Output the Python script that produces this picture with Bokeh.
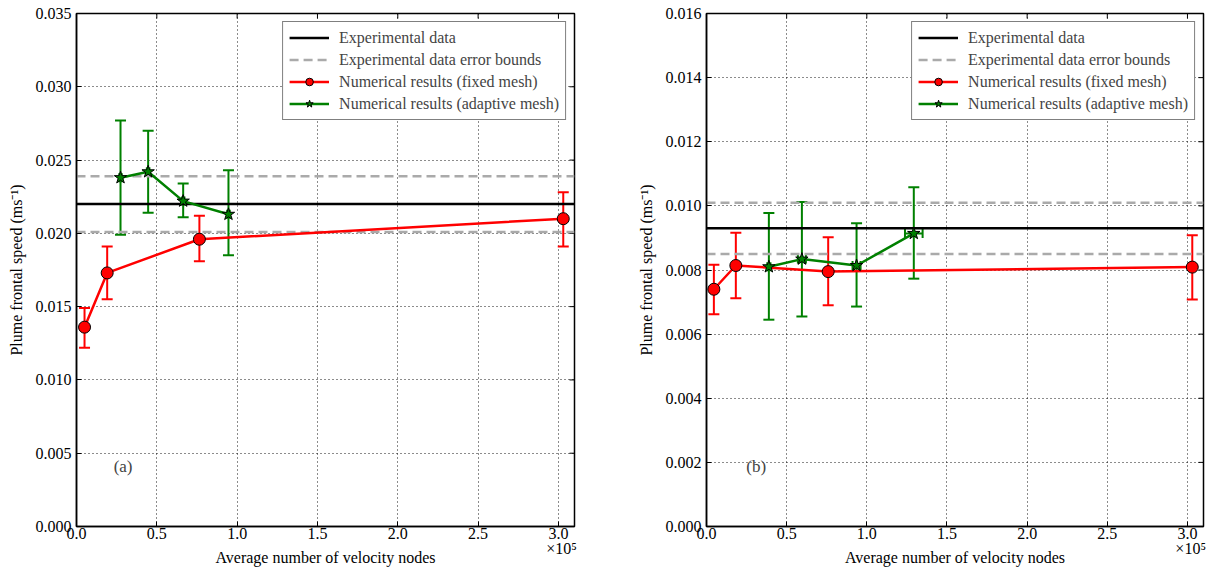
import math
from bokeh.plotting import figure
from bokeh.layouts import row
from bokeh.models import (ColumnDataSource, Whisker, TeeHead, Legend, LegendItem,
                          FixedTicker, Label, Range1d, LinearAxis)
from bokeh.embed import file_html
from bokeh.resources import INLINE

# ---- data -------------------------------------------------------------
# panel (a)
fixed_x_a = [5000, 19100, 76500, 303000]
fixed_y_a = [0.0136, 0.0173, 0.0196, 0.0210]
fixed_lo_a = [0.0122, 0.0155, 0.0181, 0.0191]
fixed_hi_a = [0.0149, 0.0191, 0.0212, 0.0228]

adapt_x_a = [27400, 44600, 66400, 94600]
adapt_y_a = [0.0238, 0.0242, 0.0222, 0.0213]
adapt_lo_a = [0.0199, 0.0214, 0.0211, 0.0185]
adapt_hi_a = [0.0277, 0.0270, 0.0234, 0.0243]
adapt_xerr_a = [800, 800, 800, 800]

exp_a = 0.0220
exp_bounds_a = [0.0201, 0.0239]

# panel (b)
fixed_x_b = [4600, 18300, 75900, 303000]
fixed_y_b = [0.00740, 0.00814, 0.00795, 0.00809]
fixed_lo_b = [0.00662, 0.00712, 0.00690, 0.00708]
fixed_hi_b = [0.00816, 0.00916, 0.00902, 0.00908]

adapt_x_b = [38900, 59500, 93600, 129300]
adapt_y_b = [0.00810, 0.00834, 0.00814, 0.00914]
adapt_lo_b = [0.00645, 0.00655, 0.00686, 0.00773]
adapt_hi_b = [0.00978, 0.01012, 0.00946, 0.01058]
adapt_xerr_b = [1000, 2500, 2500, 5500]

exp_b = 0.0093
exp_bounds_b = [0.0085, 0.0101]

x_ticks = [0, 50000, 100000, 150000, 200000, 250000, 300000]
x_tick_labels = ["0.0", "0.5", "1.0", "1.5", "2.0", "2.5", "3.0"]
y_ticks_a = [0.000, 0.005, 0.010, 0.015, 0.020, 0.025, 0.030, 0.035]
y_ticks_b = [0.000, 0.002, 0.004, 0.006, 0.008, 0.010, 0.012, 0.014, 0.016]

X_MAX = 310000
SCALE_POS = 302000          # where the x multiplier text sits
FONT = "Liberation Serif"
FS = "16px"
RED = "#ff0000"
GREEN = "#008000"


def style_text(axis):
    axis.major_label_text_font = FONT
    axis.major_label_text_font_size = FS
    axis.major_label_text_color = "black"
    axis.axis_label_text_font = FONT
    axis.axis_label_text_font_size = FS
    axis.axis_label_text_font_style = "normal"
    axis.axis_label_text_color = "black"


def make_panel(tag, width, border_right, y_max, y_ticks,
               fx, fy, flo, fhi, ax, ay, alo, ahi, axerr, exp, bounds,
               tag_x, tag_y):
    p = figure(width=width, height=569, output_backend="svg", toolbar_location=None,
               x_range=Range1d(0, X_MAX), y_range=Range1d(0, y_max),
               min_border_left=76, min_border_right=border_right,
               min_border_top=13, min_border_bottom=43)
    p.outline_line_color = "black"
    p.outline_line_width = 1.5
    p.background_fill_color = "white"
    p.border_fill_color = "white"

    # axes
    xa, ya = p.xaxis[0], p.yaxis[0]
    for ax_ in (xa, ya):
        ax_.axis_line_color = "black"
        ax_.axis_line_width = 1.5
        ax_.major_tick_in = 5
        ax_.major_tick_out = 0
        ax_.major_tick_line_color = "black"
        ax_.minor_tick_line_color = None
        style_text(ax_)
    xa.ticker = FixedTicker(ticks=x_ticks)
    xa.major_label_overrides = dict(zip(x_ticks, x_tick_labels))
    xa.major_label_standoff = 1
    ya.ticker = FixedTicker(ticks=y_ticks)
    ya.major_label_overrides = {t: f"{t:.3f}" for t in y_ticks}
    ya.axis_label = "Plume frontal speed (ms\u207b\u00b9)"
    ya.major_label_standoff = 5
    ya.axis_label_standoff = 8

    # second bottom axis: multiplier text and the axis title
    xb = LinearAxis(ticker=FixedTicker(ticks=[SCALE_POS]),
                    major_label_overrides={SCALE_POS: "\u00d710\u2075"},
                    axis_line_color=None, major_tick_line_color=None,
                    minor_tick_line_color=None, major_tick_in=0, major_tick_out=0,
                    major_label_standoff=-2,
                    axis_label="Average number of velocity nodes",
                    axis_label_standoff=-11)
    style_text(xb)
    p.add_layout(xb, "below")

    # inward tick marks along the top and right edges
    p.ray(x=x_ticks, y=[y_max] * len(x_ticks), length=5, length_units="screen",
          angle=-math.pi / 2, line_color="black", line_width=1)
    p.ray(x=[X_MAX] * len(y_ticks), y=y_ticks, length=5, length_units="screen",
          angle=math.pi, line_color="black", line_width=1)

    # grid
    for g in (p.xgrid[0], p.ygrid[0]):
        g.grid_line_color = "black"
        g.grid_line_dash = "1 3"
        g.grid_line_width = 1
        g.grid_line_alpha = 0.9
    p.xgrid[0].ticker = FixedTicker(ticks=x_ticks)
    p.ygrid[0].ticker = FixedTicker(ticks=y_ticks)

    # experimental reference lines
    r_exp = p.line([0, X_MAX], [exp, exp], line_color="black", line_width=2.5)
    r_b = None
    for b in bounds:
        r_b = p.line([0, X_MAX], [b, b], line_color="#aaaaaa", line_width=2.5,
                     line_dash="9 5")

    # fixed mesh
    fsrc = ColumnDataSource(dict(x=fx, y=fy, lo=flo, hi=fhi))
    p.add_layout(Whisker(source=fsrc, base="x", lower="lo", upper="hi",
                         line_color=RED, line_width=2,
                         upper_head=TeeHead(size=11, line_color=RED, line_width=2),
                         lower_head=TeeHead(size=11, line_color=RED, line_width=2)))
    r_fl = p.line("x", "y", source=fsrc, line_color=RED, line_width=2.5)
    r_fm = p.scatter("x", "y", source=fsrc, marker="circle", size=12,
                     fill_color=RED, line_color="black", line_width=1)

    # adaptive mesh
    asrc = ColumnDataSource(dict(x=ax, y=ay, lo=alo, hi=ahi,
                                 xl=[a - e for a, e in zip(ax, axerr)],
                                 xh=[a + e for a, e in zip(ax, axerr)]))
    p.add_layout(Whisker(source=asrc, base="x", lower="lo", upper="hi",
                         line_color=GREEN, line_width=2,
                         upper_head=TeeHead(size=11, line_color=GREEN, line_width=2),
                         lower_head=TeeHead(size=11, line_color=GREEN, line_width=2)))
    p.add_layout(Whisker(source=asrc, base="y", lower="xl", upper="xh", dimension="width",
                         line_color=GREEN, line_width=2,
                         upper_head=TeeHead(size=9, line_color=GREEN, line_width=2),
                         lower_head=TeeHead(size=9, line_color=GREEN, line_width=2)))
    r_al = p.line("x", "y", source=asrc, line_color=GREEN, line_width=2.5)
    r_am = p.scatter("x", "y", source=asrc, marker="star", size=13,
                     fill_color=GREEN, line_color="black", line_width=1)

    legend = Legend(items=[
        LegendItem(label="Experimental data", renderers=[r_exp]),
        LegendItem(label="Experimental data error bounds", renderers=[r_b]),
        LegendItem(label="Numerical results (fixed mesh)", renderers=[r_fl, r_fm]),
        LegendItem(label="Numerical results (adaptive mesh)", renderers=[r_al, r_am]),
    ], location="top_right")
    legend.margin = 8
    legend.padding = 6
    legend.spacing = 3
    legend.label_height = 19
    legend.glyph_height = 19
    legend.glyph_width = 40
    legend.label_standoff = 10
    legend.label_text_font = FONT
    legend.label_text_font_size = FS
    legend.border_line_color = "black"
    legend.border_line_width = 1.5
    legend.background_fill_alpha = 1
    p.add_layout(legend)

    p.add_layout(Label(x=tag_x, y=tag_y, text=tag, text_font=FONT, text_font_size="17px",
                       text_align="center", text_baseline="middle"))
    return p


pa = make_panel("(a)", 630, 56, 0.035, y_ticks_a,
                fixed_x_a, fixed_y_a, fixed_lo_a, fixed_hi_a,
                adapt_x_a, adapt_y_a, adapt_lo_a, adapt_hi_a, adapt_xerr_a,
                exp_a, exp_bounds_a, 29000, 0.0041)
pb = make_panel("(b)", 581, 8, 0.016, y_ticks_b,
                fixed_x_b, fixed_y_b, fixed_lo_b, fixed_hi_b,
                adapt_x_b, adapt_y_b, adapt_lo_b, adapt_hi_b, adapt_xerr_b,
                exp_b, exp_bounds_b, 31000, 0.00187)

layout = row(pa, pb)
open("out.html", "w").write(file_html(layout, INLINE))
